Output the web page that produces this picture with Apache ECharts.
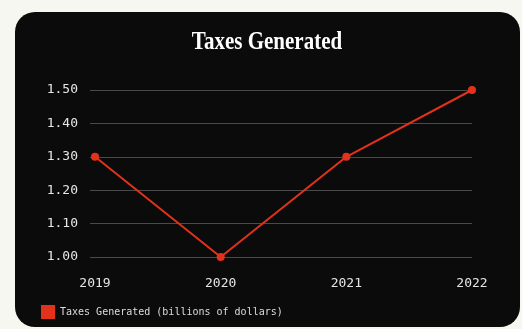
<!DOCTYPE html>
<html>
<head>
<meta charset="utf-8">
<script src="https://cdn.jsdelivr.net/npm/echarts@6/dist/echarts.min.js"></script>
<style>
  html, body { margin: 0; padding: 0; background: #f7f7f2; width: 522px; height: 329px; overflow: hidden; }
  #card { position: absolute; left: 15px; top: 12px; width: 505px; height: 315px; background: #0b0b0b; border-radius: 20px; }
  #chart { position: absolute; left: 0; top: 0; width: 522px; height: 329px; }
</style>
</head>
<body>
<div id="card"></div>
<div id="chart"></div>
<script>
// Annual tax revenue, billions of dollars
const years = ['2019', '2020', '2021', '2022'];
const taxes = [1.3, 1.0, 1.3, 1.5];
const seriesName = 'Taxes Generated (billions of dollars)';
const chartTitle = 'Taxes Generated';

const mono = '"DejaVu Sans Mono", "Liberation Mono", monospace';
const red = '#e2321c';
const chart = echarts.init(document.getElementById('chart'), null, { renderer: 'canvas' });
chart.setOption({
  backgroundColor: 'transparent',
  animation: false,
  graphic: [{
    // condensed display-style heading
    type: 'text',
    x: 267,
    y: 43,
    scaleX: 0.84,
    style: {
      text: chartTitle,
      fill: '#ffffff',
      font: 'bold 25px "Liberation Serif", "DejaVu Serif", serif',
      align: 'center',
      verticalAlign: 'middle'
    }
  }],
  legend: {
    left: 36,
    top: 300,
    itemWidth: 14,
    itemHeight: 14,
    itemGap: 6,
    icon: 'rect',
    textStyle: { color: '#dddddd', fontFamily: mono, fontSize: 10 },
    data: [seriesName]
  },
  grid: { left: 90, right: 50, top: 90, bottom: 72 },
  xAxis: {
    // value axis so the grid can extend a little left of the first year
    type: 'value',
    min: -0.04,
    max: years.length - 1,
    axisLine: { show: false },
    axisTick: { show: false },
    splitLine: { show: false },
    axisLabel: {
      customValues: years.map((_, i) => i),
      formatter: v => years[Math.round(v)] || '',
      color: '#e6e6e6',
      fontFamily: mono,
      fontSize: 13,
      margin: 20
    }
  },
  yAxis: {
    type: 'value',
    min: 1.0,
    max: 1.5,
    interval: 0.1,
    axisLine: { show: false },
    axisTick: { show: false },
    axisLabel: { color: '#e6e6e6', fontFamily: mono, fontSize: 13, margin: 12, formatter: v => v.toFixed(2) },
    splitLine: { lineStyle: { color: '#4a4a4a', width: 1 } }
  },
  series: [{
    name: seriesName,
    type: 'line',
    data: taxes.map((v, i) => [i, v]),
    color: red,
    symbol: 'circle',
    symbolSize: 8,
    lineStyle: { width: 2, color: red },
    itemStyle: { color: red }
  }]
});
</script>
</body>
</html>
